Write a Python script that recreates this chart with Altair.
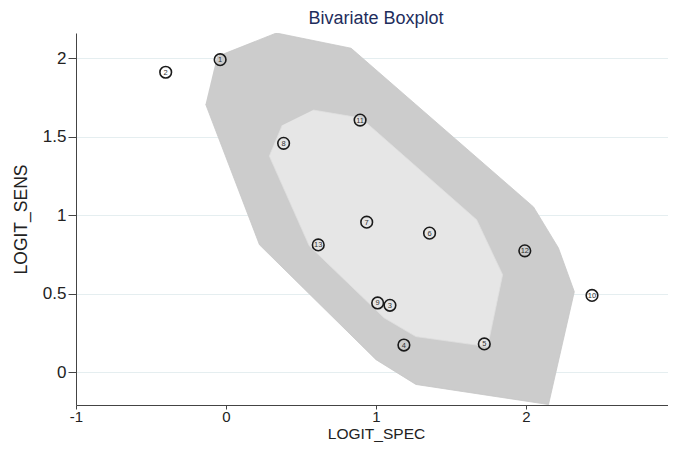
import altair as alt
import pandas as pd

# Study points (LOGIT_SPEC, LOGIT_SENS) with study ids
study_id = [1, 2, 3, 4, 5, 6, 7, 8, 9, 10, 11, 12, 13]
logit_spec = [-0.039, -0.402, 1.093, 1.186, 1.722, 1.357, 0.938, 0.384, 1.011, 2.44, 0.894, 1.992, 0.615]
logit_sens = [1.99, 1.91, 0.425, 0.172, 0.179, 0.885, 0.955, 1.457, 0.44, 0.488, 1.605, 0.772, 0.81]

# Outer fence polygon vertices
outer_x = [-0.06, 0.336, 0.834, 2.05, 2.216, 2.322, 2.15, 1.266, 1.0, 0.223, -0.136]
outer_y = [2.01, 2.16, 2.063, 1.052, 0.791, 0.512, -0.207, -0.079, 0.079, 0.811, 1.707]

# Inner hinge polygon vertices
inner_x = [0.581, 0.900, 1.671, 1.844, 1.744, 1.266, 1.053, 0.555, 0.289, 0.375]
inner_y = [1.669, 1.618, 0.970, 0.620, 0.162, 0.226, 0.346, 0.804, 1.376, 1.573]

x_ticks = [-1, 0, 1, 2, 3]
y_ticks = [0, 0.5, 1, 1.5, 2]

pts = pd.DataFrame({"id": study_id, "x": logit_spec, "y": logit_sens})
outer = pd.DataFrame({"x": outer_x, "y": outer_y, "i": list(range(len(outer_x)))})
inner = pd.DataFrame({"x": inner_x, "y": inner_y, "i": list(range(len(inner_x)))})

xs = alt.Scale(domain=[-1, 3], nice=False, zero=False)
ys = alt.Scale(domain=[-0.21, 2.16], nice=False, zero=False)

xaxis = alt.Axis(values=x_ticks, grid=False, tickSize=4, labelPadding=0,
                 labelFontSize=15, titleFontSize=15.5, titlePadding=2,
                 labelFlush=False, labelOverlap=False,
                 labelExpr="datum.value + ''", title="LOGIT_SPEC")
yaxis = alt.Axis(values=y_ticks, grid=True, gridColor="#e5eef0", gridWidth=1,
                 tickSize=8, labelPadding=2, labelFontSize=17, titleFontSize=17.5,
                 titlePadding=12, labelOverlap=False,
                 labelExpr="datum.value + ''", title="LOGIT_SENS")

outer_layer = alt.Chart(outer).mark_line(
    fill="#cccccc", stroke="#c6c6c6", strokeWidth=0.8, clip=True
).encode(
    x=alt.X("x:Q", scale=xs, axis=xaxis),
    y=alt.Y("y:Q", scale=ys, axis=yaxis),
    order="i:Q",
)

inner_layer = alt.Chart(inner).mark_line(
    fill="#e6e6e6", stroke="#e0e0e0", strokeWidth=0.8, clip=True
).encode(
    x=alt.X("x:Q", scale=xs),
    y=alt.Y("y:Q", scale=ys),
    order="i:Q",
)

circles = alt.Chart(pts).mark_point(
    shape="circle", filled=False, size=135, stroke="#1a1a1a", strokeWidth=1.6, opacity=1
).encode(
    x=alt.X("x:Q", scale=xs),
    y=alt.Y("y:Q", scale=ys),
)

labels = alt.Chart(pts).mark_text(
    fontSize=7.5, color="#333333", font="Liberation Sans", baseline="middle", align="center", dy=0.5
).encode(
    x=alt.X("x:Q", scale=xs),
    y=alt.Y("y:Q", scale=ys),
    text="id:N",
)

chart = alt.layer(outer_layer, inner_layer, circles, labels).properties(
    width=600,
    height=372,
    title=alt.TitleParams("Bivariate Boxplot", fontSize=18, fontWeight="normal",
                          color="#1e2d5c", font="Liberation Sans", anchor="middle", offset=5),
    autosize=alt.AutoSizeParams(type="none"),
    padding={"left": 68, "top": 25, "right": -8, "bottom": 37},
).configure_view(
    stroke=None
).configure_axis(
    labelFont="Liberation Sans", titleFont="Liberation Sans",
    labelColor="#222222", titleColor="#222222", titleFontWeight="normal",
    domainColor="#444444", tickColor="#444444", domainWidth=1, tickWidth=1,
)

chart.save("out.html", embed_options={"renderer": "svg", "actions": False})
